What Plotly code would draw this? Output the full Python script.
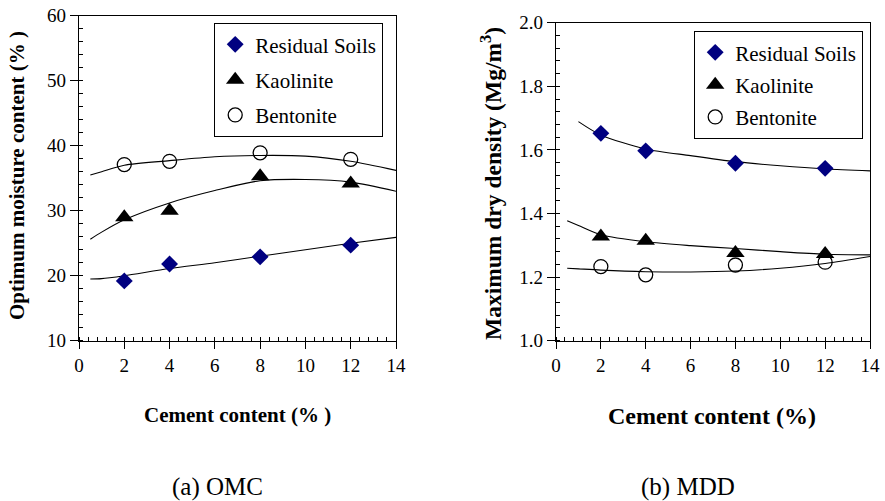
import plotly.graph_objects as go

# ---------------- data ----------------
cement = [2, 4, 8, 12]

omc_residual = [19.2, 21.8, 22.9, 24.7]
omc_kaolinite = [29.0, 30.0, 35.3, 34.2]
omc_bentonite = [37.1, 37.6, 38.9, 37.9]

mdd_residual = [1.652, 1.597, 1.558, 1.542]
mdd_kaolinite = [1.328, 1.314, 1.276, 1.273]
mdd_bentonite = [1.233, 1.207, 1.238, 1.247]

# trend lines
trend_x = [0.5, 1, 2, 4, 6, 8, 10, 12, 14]
omc_res_trend = [19.5, 19.55, 20.0, 21.1, 22.0, 23.0, 24.0, 25.0, 25.9]
omc_kao_trend = [25.6, 26.7, 28.6, 31.2, 33.1, 34.6, 34.8, 34.4, 33.0]
omc_ben_trend = [35.5, 36.0, 37.0, 37.7, 38.3, 38.5, 38.4, 37.6, 36.2]

mdd_res_x = [1, 2, 4, 6, 8, 10, 12, 14]
mdd_res_trend = [1.689, 1.647, 1.603, 1.582, 1.563, 1.550, 1.540, 1.534]
mdd_kao_trend = [1.377, 1.362, 1.333, 1.311, 1.299, 1.290, 1.280, 1.272, 1.270]
mdd_ben_trend = [1.228, 1.226, 1.222, 1.217, 1.216, 1.219, 1.228, 1.243, 1.265]

series_names = ["Residual Soils", "Kaolinite", "Bentonite"]
x_ticks = [0, 2, 4, 6, 8, 10, 12, 14]

# ---------------- figure ----------------
FONT = "Liberation Serif"
NAVY = "#000080"

fig = go.Figure()

marker_styles = [
    dict(symbol="diamond", size=13, color=NAVY, line=dict(width=0)),
    dict(symbol="triangle-up", size=16, color="black", line=dict(width=0)),
    dict(symbol="circle-open", size=14, color="black", line=dict(width=1.3)),
]

line_style = dict(color="black", width=1.1, shape="spline", smoothing=0.8)

# left panel trends
for xs, ys in [(trend_x, omc_res_trend), (trend_x, omc_kao_trend), (trend_x, omc_ben_trend)]:
    fig.add_trace(go.Scatter(x=xs, y=ys, mode="lines", line=line_style,
                             showlegend=False, hoverinfo="skip", xaxis="x", yaxis="y"))
# right panel trends
for xs, ys in [(mdd_res_x, mdd_res_trend), (trend_x, mdd_kao_trend), (trend_x, mdd_ben_trend)]:
    fig.add_trace(go.Scatter(x=xs, y=ys, mode="lines", line=line_style,
                             showlegend=False, hoverinfo="skip", xaxis="x2", yaxis="y2"))

# markers
for i, (name, ys) in enumerate(zip(series_names, [omc_residual, omc_kaolinite, omc_bentonite])):
    fig.add_trace(go.Scatter(x=cement, y=ys, mode="markers", name=name,
                             marker=marker_styles[i], legendgroup="a%d" % i,
                             legend="legend", xaxis="x", yaxis="y"))
for i, (name, ys) in enumerate(zip(series_names, [mdd_residual, mdd_kaolinite, mdd_bentonite])):
    fig.add_trace(go.Scatter(x=cement, y=ys, mode="markers", name=name,
                             marker=marker_styles[i], legendgroup="b%d" % i,
                             legend="legend2", xaxis="x2", yaxis="y2"))

W, H = 885, 501

def xaxis_cfg(domain):
    return dict(domain=domain, range=[0, 14], tickvals=x_ticks, ticks="outside",
                ticklen=7, tickwidth=1.3, tickcolor="black", showline=True,
                linecolor="black", linewidth=1.3, mirror=True, showgrid=False,
                zeroline=False, automargin=False,
                tickfont=dict(family=FONT, size=19, color="black"),
                minor=dict(dtick=0.4, tick0=0, ticks="inside", ticklen=4,
                           tickwidth=1.1, tickcolor="black", showgrid=False))

def yaxis_cfg(domain, rng, dtick, minor, fmt, anchor):
    return dict(domain=domain, range=rng, dtick=dtick, tick0=rng[0], ticks="outside",
                ticklen=8, tickwidth=1.3, tickcolor="black", showline=True,
                linecolor="black", linewidth=1.3, mirror=True, showgrid=False,
                zeroline=False, tickformat=fmt, anchor=anchor, automargin=False,
                tickfont=dict(family=FONT, size=19, color="black"),
                minor=dict(dtick=minor, tick0=rng[0], ticks="inside", ticklen=4,
                           tickwidth=1.1, tickcolor="black", showgrid=False))

bottom = 1 - 340.7 / H
fig.update_layout(
    width=W, height=H,
    margin=dict(l=0, r=0, t=0, b=0, pad=0, autoexpand=False),
    paper_bgcolor="white", plot_bgcolor="white",
    font=dict(family=FONT, color="black"),
    xaxis=dict(xaxis_cfg([79 / W, 396 / W]), anchor="y"),
    yaxis=yaxis_cfg([bottom, 1 - 15.7 / H], [10, 60], 10, 2, "d", "x"),
    xaxis2=dict(xaxis_cfg([556 / W, 870 / W]), anchor="y2"),
    yaxis2=yaxis_cfg([bottom, 1 - 22.7 / H], [1.0, 2.0], 0.2, 0.04, ".1f", "x2"),
    legend=dict(x=214 / W, y=1 - 23 / H, xanchor="left", yanchor="top",
                bordercolor="black", borderwidth=1.2, bgcolor="white",
                font=dict(family=FONT, size=21, color="black"),
                tracegroupgap=5, itemwidth=30),
    legend2=dict(x=694 / W, y=1 - 31 / H, xanchor="left", yanchor="top",
                 bordercolor="black", borderwidth=1.2, bgcolor="white",
                 font=dict(family=FONT, size=21, color="black"),
                 tracegroupgap=2, itemwidth=30),
    showlegend=True,
)

annos = [
    dict(text="<b>Cement content (% )</b>", x=237 / W, y=1 - 415 / H, size=21, angle=0),
    dict(text="<b>Cement content (%)</b>", x=712 / W, y=1 - 416 / H, size=24, angle=0),
    dict(text="<b>Optimum moisture content (% )</b>", x=17 / W, y=1 - 176 / H, size=21, angle=-90),
    dict(text="<b>Maximum dry density (Mg/m<sup>3</sup>)</b>", x=491 / W, y=1 - 183 / H, size=23.5, angle=-90),
    dict(text="(a) OMC", x=217 / W, y=1 - 487 / H, size=25, angle=0),
    dict(text="(b) MDD", x=688 / W, y=1 - 487 / H, size=25, angle=0),
]
for a in annos:
    fig.add_annotation(text=a["text"], x=a["x"], y=a["y"], xref="paper", yref="paper",
                       xanchor="center", yanchor="middle", showarrow=False,
                       textangle=a["angle"],
                       font=dict(family=FONT, size=a["size"], color="black"))

fig.write_html("out.html",
               config={"displayModeBar": False},
               post_script="document.body.style.margin='0px';document.body.style.overflow='hidden';")
